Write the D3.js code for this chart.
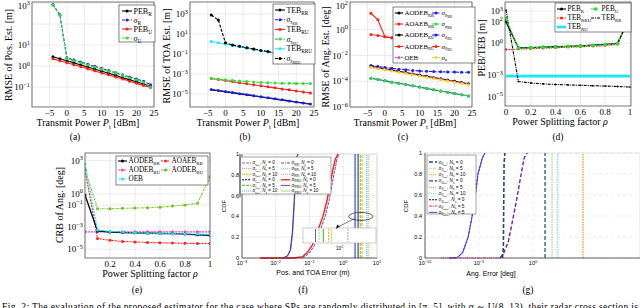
<!DOCTYPE html>
<html>
<head>
<meta charset="utf-8">
<script src="https://cdn.jsdelivr.net/npm/d3@7/dist/d3.min.js"></script>
<style>
  body { margin: 0; background: #fff; }
  svg { display: block; }
  text { font-family: "Liberation Serif", "DejaVu Serif", serif; fill: #000; }
  text.sans { font-family: "Liberation Sans", "DejaVu Sans", sans-serif; }
</style>
</head>
<body>
<svg id="fig" width="640" height="308"></svg>
<script>
// sweeps
var power = [-4, -2, 0, 2, 4, 6, 8, 10, 12, 14, 16, 18, 20, 22, 24];
var rho = [0, 0.1, 0.2, 0.3, 0.4, 0.5, 0.6, 0.7, 0.8, 0.9, 1];

// (a) RMSE of position estimate [m]
var aPebR = [2.8, 2.25, 1.8, 1.42, 1.13, 0.9, 0.72, 0.57, 0.45, 0.36, 0.28, 0.22, 0.18, 0.14, 0.11];
var aSigR = [850, 280, 2.5, 1.95, 1.55, 1.22, 0.97, 0.77, 0.61, 0.48, 0.38, 0.3, 0.24, 0.19, 0.13];
var aPebU = [2.2, 1.8, 1.45, 1.15, 0.92, 0.74, 0.59, 0.47, 0.38, 0.3, 0.24, 0.19, 0.15, 0.12, 0.095];
var aSigU = [800, 260, 2.3, 1.78, 1.42, 1.12, 0.9, 0.71, 0.56, 0.45, 0.36, 0.28, 0.22, 0.17, 0.1];

// (b) RMSE of TOA estimate [m]
var bTebRR = [2.7e-5, 2.15e-5, 1.7e-5, 1.35e-5, 1.05e-5, 8.3e-6, 6.6e-6, 5.1e-6, 4.1e-6, 3.2e-6, 2.55e-6, 2.0e-6, 1.55e-6, 1.23e-6, 0.98e-6];
var bSigRR = [2.8e-5, 2.2e-5, 1.74e-5, 1.38e-5, 1.07e-5, 8.5e-6, 6.8e-6, 5.2e-6, 4.2e-6, 3.3e-6, 2.6e-6, 2.0e-6, 1.6e-6, 1.26e-6, 1.0e-6];
var bTebRU = [3.5e-4, 2.8e-4, 2.2e-4, 1.74e-4, 1.35e-4, 1.07e-4, 8.5e-5, 6.6e-5, 5.2e-5, 4.1e-5, 3.2e-5, 2.6e-5, 2.0e-5, 1.6e-5, 1.26e-5];
var bSigRU = [3.5e-4, 3.0e-4, 2.6e-4, 2.3e-4, 2.0e-4, 1.8e-4, 1.6e-4, 1.45e-4, 1.35e-4, 1.26e-4, 1.2e-4, 1.17e-4, 1.15e-4, 1.12e-4, 1.12e-4];
var bTebRRU = [1.78, 1.32, 0.98, 0.72, 0.52, 0.39, 0.29, 0.21, 0.16, 0.115, 0.085, 0.063, 0.047, 0.035, 0.025];
var bSigRRU = [800, 250, 1.3, 0.8, 0.58, 0.43, 0.32, 0.23, 0.175, 0.127, 0.094, 0.07, 0.052, 0.039, 0.028];

// (c) RMSE of angle estimate [deg]
var cAoaRB = [19, 5.9, 0.28, 0.24, 0.2, 0.16, 0.126, 0.095, 0.072, 0.052, 0.038, 0.025, 0.016, 0.0089, 0.004];
var cAodRU = [0.42, 0.35, 0.28, 0.24, 0.2, 0.16, 0.126, 0.095, 0.072, 0.052, 0.038, 0.025, 0.016, 0.0089, 0.004];
var cAodRR = [1.41e-3, 1.12e-3, 9.1e-4, 7.2e-4, 5.8e-4, 4.7e-4, 3.7e-4, 3.0e-4, 2.4e-4, 1.9e-4, 1.55e-4, 1.23e-4, 9.8e-5, 7.9e-5, 6.3e-5];
var cSigAlpha = [1.2e-3, 9.5e-4, 7.7e-4, 6.1e-4, 4.9e-4, 4.0e-4, 3.15e-4, 2.55e-4, 2.0e-4, 1.6e-4, 1.3e-4, 1.05e-4, 8.3e-5, 6.7e-5, 5.3e-5];
var cSigThRU = [1.7e-3, 1.41e-3, 1.17e-3, 1.0e-3, 8.7e-4, 7.8e-4, 6.9e-4, 6.3e-4, 5.9e-4, 5.6e-4, 5.4e-4, 5.25e-4, 5.1e-4, 5.0e-4, 5.0e-4];
var cSigRR = [1.7e-4, 1.35e-4, 1.07e-4, 8.5e-5, 6.9e-5, 5.5e-5, 4.4e-5, 3.5e-5, 2.75e-5, 2.2e-5, 1.74e-5, 1.4e-5, 1.12e-5, 8.9e-6, 7.1e-6];

// (d) PEB / TEB vs splitting factor [m]
var dPebR = [100, 0.35, 0.38, 0.42, 0.45, 0.5, 0.55, 0.63, 0.76, 0.95, 320];
var dPebU = [200, 0.33, 0.36, 0.4, 0.43, 0.48, 0.53, 0.6, 0.72, 0.9, 400];
var dTebRRU = [0.25, 0.27, 0.3, 0.33, 0.37, 0.4, 0.45, 0.5, 0.58, 0.75, 280];
var dTebRU = [8e-4, 8e-4, 8e-4, 8e-4, 8e-4, 8e-4, 8e-4, 8e-4, 8e-4, 8e-4, 8e-4];
var dTebRR = [1250, 2.5e-4, 1.8e-4, 1.5e-4, 1.3e-4, 1.2e-4, 1.1e-4, 1.0e-4, 9.3e-5, 8.5e-5, 7.5e-5];

// (e) CRB of angles [deg]
var eAodRR = [0.8, 4.5e-4, 3.5e-4, 3.2e-4, 3.0e-4, 2.8e-4, 2.6e-4, 2.5e-4, 2.3e-4, 2.0e-4, 1.8e-4];
var eAoaRB = [150, 9.3e-5, 6.3e-5, 5.0e-5, 4.5e-5, 4.0e-5, 3.8e-5, 3.6e-5, 3.4e-5, 3.3e-5, 3.2e-5];
var eAodBU = [3.7e-4, 3.7e-4, 3.7e-4, 3.7e-4, 3.7e-4, 3.7e-4, 3.7e-4, 3.7e-4, 3.7e-4, 3.7e-4, 3.7e-4];
var eAodRU = [150, 0.045, 0.045, 0.05, 0.052, 0.056, 0.063, 0.079, 0.1, 0.14, 35];
var eOeb = [500, 5.4e-4, 4.0e-4, 3.5e-4, 3.2e-4, 2.8e-4, 2.6e-4, 2.5e-4, 2.4e-4, 2.3e-4, 2.2e-4];

// (f) CDF of position / TOA error [m]
var fSteepX = [0.016, 0.022, 0.027, 0.031, 0.035, 0.039, 0.042, 0.045];
var fSteepX2 = [0.017, 0.023, 0.028, 0.032, 0.036, 0.04, 0.043, 0.046];
var fSteepCdf = [0, 0.02, 0.08, 0.25, 0.55, 0.85, 0.97, 1];
var fRedX = [0.0034, 0.03, 0.06, 0.085, 0.12, 0.17, 0.25, 0.33, 0.4, 0.48, 0.58, 0.7];
var fPurpleX = [0.004, 0.035, 0.07, 0.1, 0.14, 0.2, 0.29, 0.38, 0.46, 0.55, 0.65, 0.76];
var fRedCdf = [0, 0, 0.01, 0.05, 0.12, 0.25, 0.4, 0.55, 0.7, 0.83, 0.95, 1];
var fStepX = [2.24, 2.75, 3.2, 3.6, 5.0, 5.7];
var fInsetX = [2.2, 2.75, 3.6, 5.0, 6.0, 17];
var fXTicks = [-3, -2, -1, 0, 1];

// (g) CDF of angle error [deg]
var gBlueX = [2e-8, 1e-7, 3e-7, 1e-6, 3.5e-6, 8e-6, 2e-5, 3.5e-5];
var gBlueCdf = [0, 0.005, 0.05, 0.2, 0.5, 0.8, 0.95, 1];
var gTealX = [1.5e-3, 1.8e-3, 2.1e-3, 2.5e-3];
var gTealCdf = [0, 0.1, 0.9, 1];
var gPurpleX = [9e-4, 2e-3, 5e-3, 0.01, 0.03, 0.08, 0.15, 0.28];
var gPurpleCdf = [0, 0.05, 0.15, 0.3, 0.55, 0.8, 0.95, 1];
var gMagX = [3e-9, 1e-3];
var gMagCdf = [0, 0];
var gStepX = [13, 58, 200, 4.3e4];
var gXTicks = [-10, -5, 0];

// tick labels
var powTicks = [-10, -5, 0, 5, 10, 15, 20, 25];
var rhoTicks = [0, 0.2, 0.4, 0.6, 0.8, 1];
var aYTicks = [3, 1, 0, -1];
var aYGrid = [3, 2, 1, 0, -1];
var bYTicks = [3, 1, -1, -3, -5];
var cYTicks = [2, 0, -2, -4, -6];
var dYTicks = [3, 2, 0, -3, -5];
var eYTicks = [3, 0, -1, -3, -5];
var cdfTicks = [0, 0.2, 0.4, 0.6, 0.8, 1];

var svg = d3.select("#fig");
var defs = svg.append("defs");
var clipCount = 0;

function minus(v) {
    return v < 0 ? "\u2212" + (-v) : String(v);
}

// "10" with superscript exponent
function sup(sel, e, fs) {
    sel.append("tspan").text("10");
    sel.append("tspan").attr("font-size", fs * 0.7).attr("dy", -fs * 0.4).text(minus(e));
}

// text made of parts [text, level, italic]; level 1 = subscript, 2 = sub-subscript
function rich(sel, parts, fs) {
    var off = 0;
    parts.forEach(function (p) {
        var lvl = p[1] || 0;
        var target = lvl == 0 ? 0 : (lvl == 1 ? fs * 0.25 : fs * 0.4);
        var size = lvl == 0 ? fs : (lvl == 1 ? fs * 0.68 : fs * 0.52);
        var ts = sel.append("tspan").attr("font-size", size).attr("dy", target - off).text(p[0]);
        if (p[2]) ts.attr("font-style", "italic");
        off = target;
    });
}

function makePanel(box, x, y) {
    var g = svg.append("g");
    var id = "clip" + (clipCount++);
    defs.append("clipPath").attr("id", id).append("rect")
        .attr("x", box.l).attr("y", box.t - 2).attr("width", box.r - box.l).attr("height", box.b - box.t + 4);
    var p = { g: g, x: x, y: y, box: box };
    p.back = g.append("g");
    p.plot = g.append("g").attr("clip-path", "url(#" + id + ")");
    p.front = g.append("g");
    return p;
}

function pgfAxes(p, xTicks, xFmt, yExps, yGrid) {
    var b = p.box;
    p.back.selectAll(null).data(xTicks).join("line")
        .attr("x1", function (d) { return p.x(d); }).attr("x2", function (d) { return p.x(d); })
        .attr("y1", b.t).attr("y2", b.b).attr("stroke", "#e3e3e3").attr("stroke-width", 0.7);
    p.back.selectAll(null).data(yGrid || yExps).join("line")
        .attr("x1", b.l).attr("x2", b.r)
        .attr("y1", function (e) { return p.y(Math.pow(10, e)); })
        .attr("y2", function (e) { return p.y(Math.pow(10, e)); })
        .attr("stroke", "#e3e3e3").attr("stroke-width", 0.7);
    p.front.append("rect").attr("x", b.l).attr("y", b.t).attr("width", b.r - b.l).attr("height", b.b - b.t)
        .attr("fill", "none").attr("stroke", "#555").attr("stroke-width", 0.8);
    var fs = 9;
    p.front.selectAll(null).data(xTicks.filter(function (d) { return xFmt(d) !== ""; })).join("text")
        .attr("x", function (d) { return p.x(d); }).attr("y", b.b + 9)
        .attr("text-anchor", "middle").attr("font-size", fs)
        .text(xFmt);
    p.front.selectAll(null).data(yExps).join("text")
        .attr("x", b.l - 2).attr("y", function (e) { return Math.max(p.y(Math.pow(10, e)) + fs * 0.35, 8.5); })
        .attr("text-anchor", "end").attr("font-size", fs)
        .each(function (e) { sup(d3.select(this), e, fs); });
}

function cdfAxes(p, xExps, gridDash) {
    var b = p.box;
    var fs = 5.5;
    p.back.selectAll(null).data(xExps).join("line")
        .attr("x1", function (e) { return p.x(Math.pow(10, e)); }).attr("x2", function (e) { return p.x(Math.pow(10, e)); })
        .attr("y1", b.t).attr("y2", b.b).attr("stroke", "#e0e0e0").attr("stroke-width", 0.6)
        .attr("stroke-dasharray", gridDash);
    p.back.selectAll(null).data(cdfTicks).join("line")
        .attr("x1", b.l).attr("x2", b.r)
        .attr("y1", function (d) { return p.y(d); }).attr("y2", function (d) { return p.y(d); })
        .attr("stroke", "#e0e0e0").attr("stroke-width", 0.6).attr("stroke-dasharray", gridDash);
    p.back.append("rect").attr("x", b.l).attr("y", b.t).attr("width", b.r - b.l).attr("height", b.b - b.t)
        .attr("fill", "none").attr("stroke", "#cfcfcf").attr("stroke-width", 0.6);
    p.front.append("path").attr("d", "M" + b.l + "," + b.t + "V" + b.b + "H" + b.r)
        .attr("fill", "none").attr("stroke", "#333").attr("stroke-width", 0.7);
    p.front.selectAll(null).data(cdfTicks).join("text").attr("class", "sans")
        .attr("x", b.l - 3).attr("y", function (d) { return p.y(d) + 2; })
        .attr("text-anchor", "end").attr("font-size", fs)
        .text(function (d) { return String(d); });
    p.front.selectAll(null).data(xExps).join("text").attr("class", "sans")
        .attr("x", function (e) { return p.x(Math.pow(10, e)); }).attr("y", b.b + 7)
        .attr("text-anchor", "middle").attr("font-size", fs)
        .each(function (e) { sup(d3.select(this), e, fs); });
}

function mark(g, cx, cy, s) {
    if (s.m == "s") {
        g.append("rect").attr("x", cx - 1.6).attr("y", cy - 1.6).attr("width", 3.2).attr("height", 3.2).attr("fill", s.mc || s.c);
    } else {
        g.append("circle").attr("cx", cx).attr("cy", cy).attr("r", s.r || 1.5).attr("fill", s.mc || s.c);
    }
}

function drawSeries(p, xs, ys, s) {
    var pts = xs.map(function (v, i) { return [v, ys[i]]; });
    var line = d3.line()
        .x(function (d) { return p.x(d[0]); })
        .y(function (d) { return p.y(d[1]); });
    p.plot.append("path").datum(pts).attr("d", line)
        .attr("fill", "none").attr("stroke", s.c).attr("stroke-width", s.w || 1.1)
        .attr("stroke-dasharray", s.dash || null);
    if (s.m) {
        pts.forEach(function (d) { mark(p.plot, p.x(d[0]), p.y(d[1]), s); });
    }
}

function vline(p, v, s) {
    p.plot.append("line").attr("x1", p.x(v)).attr("x2", p.x(v)).attr("y1", p.y(0)).attr("y2", p.y(1))
        .attr("stroke", s.c).attr("stroke-width", s.w || 1).attr("stroke-dasharray", s.dash || null);
}

function legend(g, rect, items, fs, cls, len) {
    len = len || 10;
    g.append("rect").attr("x", rect[0]).attr("y", rect[1]).attr("width", rect[2]).attr("height", rect[3])
        .attr("fill", "#fff").attr("stroke", rect[4] || "#333").attr("stroke-width", 0.6);
    items.forEach(function (it) {
        var s = it.s;
        g.append("line").attr("x1", it.x).attr("x2", it.x + len).attr("y1", it.y).attr("y2", it.y)
            .attr("stroke", s.c).attr("stroke-width", s.w || 1.1).attr("stroke-dasharray", s.dash || null);
        if (s.m) mark(g, it.x + len / 2, it.y, s);
        var t = g.append("text").attr("x", it.x + len + 1.5).attr("y", it.y + fs * 0.33).attr("font-size", fs);
        if (cls) t.attr("class", cls);
        rich(t, it.t, fs);
    });
}

function label(x, y, parts, fs, rot, cls) {
    var t = svg.append("text").attr("text-anchor", "middle").attr("font-size", fs);
    if (rot) t.attr("transform", "translate(" + x + "," + y + ") rotate(-90)");
    else t.attr("x", x).attr("y", y);
    if (cls) t.attr("class", cls);
    rich(t, parts, fs);
}

function powFmt(d) { return d == -10 ? "" : minus(d); }
function rhoFmt(d) { return String(d); }

var BLACK = "#000", BLUE = "#1c1cff", RED = "#ff1f1f", GREEN = "#2fe02f", CYAN = "#19e6ff",
    PINK = "#ff3fc8", YELLOW = "#ffd21a", OLIVE = "#6fbf1f";

// ---------- (a) ----------
var pa = makePanel({ l: 32, r: 154, t: 2, b: 107 },
    d3.scaleLinear().domain([-10, 25]).range([32, 154]),
    d3.scaleLog().domain([Math.pow(10, -1.95), Math.pow(10, 3.05)]).range([107, 2]));
pgfAxes(pa, powTicks, powFmt, aYTicks, aYGrid);
drawSeries(pa, power, aPebR, { c: BLACK, m: "o" });
drawSeries(pa, power, aPebU, { c: RED, m: "o" });
drawSeries(pa, power, aSigR, { c: BLUE, m: "o", dash: "3,1.5" });
drawSeries(pa, power, aSigU, { c: GREEN, m: "o", dash: "3,1.5" });
legend(pa.front, [119, 5, 36, 37], [
    { x: 122, y: 11, s: { c: BLACK, m: "o" }, t: [["PEB"], ["R", 1]] },
    { x: 122, y: 20, s: { c: BLUE, m: "o", dash: "3,1.5" }, t: [["σ", 0, true], ["R", 1]] },
    { x: 122, y: 29, s: { c: RED, m: "o" }, t: [["PEB"], ["U", 1]] },
    { x: 122, y: 38, s: { c: GREEN, m: "o", dash: "3,1.5" }, t: [["σ", 0, true], ["U", 1]] }
], 8);
label(12, 55, [["RMSE of Pos. Est. [m]"]], 10, true);
label(88, 126, [["Transmit Power "], ["P", 0, true], ["t", 1], [" [dBm]"]], 10);
label(75, 140, [["(a)"]], 9.5);

// ---------- (b) ----------
var pb = makePanel({ l: 190, r: 314, t: 2, b: 107 },
    d3.scaleLinear().domain([-10, 25]).range([190, 314]),
    d3.scaleLog().domain([Math.pow(10, -6.3), Math.pow(10, 4.2)]).range([107, 2]));
pgfAxes(pb, powTicks, powFmt, bYTicks);
drawSeries(pb, power, bTebRR, { c: BLACK, w: 1.4 });
drawSeries(pb, power, bSigRR, { c: BLUE, m: "o", dash: "3,1.5" });
drawSeries(pb, power, bTebRU, { c: RED, m: "o" });
drawSeries(pb, power, bSigRU, { c: GREEN, m: "o", dash: "3,1.5" });
drawSeries(pb, power, bTebRRU, { c: CYAN, m: "o" });
drawSeries(pb, power, bSigRRU, { c: BLACK, m: "o", dash: "3,1.5" });
legend(pb.front, [273, 4, 42, 60], [
    { x: 275, y: 10, s: { c: BLACK, m: "o" }, t: [["TEB"], ["RR", 1]] },
    { x: 275, y: 19.7, s: { c: BLUE, m: "o", dash: "3,1.5" }, t: [["σ", 0, true], ["τ", 1, true], ["RR", 2]] },
    { x: 275, y: 29.4, s: { c: RED, m: "o" }, t: [["TEB"], ["RU", 1]] },
    { x: 275, y: 39.1, s: { c: GREEN, m: "o", dash: "3,1.5" }, t: [["σ", 0, true], ["τ", 1, true], ["RU", 2]] },
    { x: 275, y: 48.8, s: { c: CYAN, m: "o" }, t: [["TEB"], ["RRU", 1]] },
    { x: 275, y: 58.5, s: { c: BLACK, m: "o", dash: "3,1.5" }, t: [["σ", 0, true], ["τ", 1, true], ["RRU", 2]] }
], 7.8);
label(170, 56, [["RMSE of TOA Est. [m]"]], 10, true);
label(248, 126, [["Transmit Power "], ["P", 0, true], ["t", 1], [" [dBm]"]], 10);
label(245, 140, [["(b)"]], 9.5);

// ---------- (c) ----------
var pc = makePanel({ l: 350, r: 472, t: 2, b: 107 },
    d3.scaleLinear().domain([-10, 25]).range([350, 472]),
    d3.scaleLog().domain([1e-6, Math.pow(10, 2.15)]).range([107, 2]));
pgfAxes(pc, powTicks, powFmt, cYTicks);
drawSeries(pc, power, cAoaRB, { c: RED, m: "o" });
drawSeries(pc, power, cAodRU, { c: RED, m: "o" });
drawSeries(pc, power, cSigThRU, { c: BLUE, m: "o", dash: "3,1.5" });
drawSeries(pc, power, cAodRR, { c: BLACK, m: "o", w: 1.3 });
drawSeries(pc, power, cAodRR, { c: PINK, dash: "2,2" });
drawSeries(pc, power, cSigAlpha, { c: YELLOW, m: "o", dash: "2,1" });
drawSeries(pc, power, cSigRR, { c: BLUE, m: "o" });
drawSeries(pc, power, cSigRR, { c: GREEN, m: "o", dash: "3,1.5" });
legend(pc.front, [393, 7, 82, 56], [
    { x: 395, y: 13, s: { c: BLACK, m: "o" }, t: [["AODEB"], ["RR", 1]] },
    { x: 395, y: 24, s: { c: RED, m: "o" }, t: [["AOAEB"], ["RB", 1]] },
    { x: 395, y: 35, s: { c: BLACK, m: "o" }, t: [["AODEB"], ["RU", 1]] },
    { x: 395, y: 46.5, s: { c: RED, m: "o" }, t: [["AODEB"], ["RU", 1, true]] },
    { x: 395, y: 57.5, s: { c: PINK, m: "o", dash: "2,1" }, t: [["OEB"]] },
    { x: 432, y: 13, s: { c: BLUE, m: "o", dash: "3,1.5" }, t: [["σ", 0, true], ["θ", 1, true], ["RR", 2]] },
    { x: 432, y: 24, s: { c: GREEN, m: "o", dash: "3,1.5" }, t: [["σ", 0, true], ["ϕ", 1, true], ["RR", 2]] },
    { x: 432, y: 35, s: { c: BLUE, m: "o", dash: "3,1.5" }, t: [["σ", 0, true], ["θ", 1, true], ["RU", 2]] },
    { x: 432, y: 46.5, s: { c: RED, m: "o", dash: "3,1.5" }, t: [["σ", 0, true], ["θ", 1, true], ["RU", 2]] },
    { x: 432, y: 57.5, s: { c: YELLOW, m: "o", dash: "2,1" }, t: [["σ", 0, true], ["α", 1, true]] }
], 6.8, null, 8);
label(329, 57, [["RMSE of Ang. Est. [deg]"]], 10, true);
label(405, 126, [["Transmit Power "], ["P", 0, true], ["t", 1], [" [dBm]"]], 10);
label(403, 140, [["(c)"]], 9.5);

// ---------- (d) ----------
var pd = makePanel({ l: 505, r: 631, t: 2, b: 106 },
    d3.scaleLinear().domain([0, 1]).range([506, 630]),
    d3.scaleLog().domain([Math.pow(10, -5.9), Math.pow(10, 3.85)]).range([106, 2]));
pgfAxes(pd, rhoTicks, rhoFmt, dYTicks);
drawSeries(pd, rho, dTebRU, { c: CYAN, w: 2.6 });
drawSeries(pd, rho, dTebRR, { c: BLACK, dash: "3,1,1,1", m: "o", r: 0.9 });
drawSeries(pd, rho, dTebRRU, { c: RED, dash: "1.5,1", m: "o", r: 1.2 });
drawSeries(pd, rho, dPebR, { c: BLACK, m: "o", w: 1.3 });
drawSeries(pd, rho, dPebU, { c: GREEN, m: "s", dash: "3,1.5", w: 1.2 });
legend(pd.front, [555, 3, 76, 29], [
    { x: 557, y: 9, s: { c: BLACK, m: "o" }, t: [["PEB"], ["R", 1]] },
    { x: 557, y: 18, s: { c: RED, m: "o", dash: "1.5,1" }, t: [["TEB"], ["RRU", 1]] },
    { x: 557, y: 27, s: { c: CYAN, w: 2.6 }, t: [["TEB"], ["RU", 1]] },
    { x: 591, y: 9, s: { c: GREEN, m: "s", dash: "3,1.5" }, t: [["PEB"], ["U", 1]] },
    { x: 591, y: 18, s: { c: BLACK, dash: "3,1,1,1" }, t: [["TEB"], ["RR", 1]] }
], 7.2, null, 9);
label(485, 48, [["PEB/TEB [m]"]], 10, true);
label(560, 124.5, [["Power Splitting factor "], ["ρ", 0, true]], 10);
label(558, 140, [["(d)"]], 9.5);

// ---------- (e) ----------
var pe = makePanel({ l: 85, r: 210, t: 153, b: 258 },
    d3.scaleLinear().domain([0, 1]).range([85, 210]),
    d3.scaleLog().domain([Math.pow(10, -5.8), Math.pow(10, 3.7)]).range([258, 153]));
pgfAxes(pe, rhoTicks, function (d) { return d == 0 ? "" : String(d); }, eYTicks);
drawSeries(pe, rho, eAodBU, { c: PINK, m: "o", dash: "2,1" });
drawSeries(pe, rho, eAoaRB, { c: RED, m: "o", dash: "2,1" });
drawSeries(pe, rho, eAodRU, { c: OLIVE, m: "o", dash: "2,1,1,1" });
drawSeries(pe, rho, eAodRR, { c: BLACK, m: "o", w: 1.3 });
drawSeries(pe, rho, eOeb, { c: CYAN, m: "o", dash: "2,1" });
legend(pe.front, [116, 156, 92, 29], [
    { x: 118, y: 161, s: { c: BLACK, m: "o" }, t: [["AODEB"], ["RR", 1]] },
    { x: 118, y: 170, s: { c: PINK, m: "o", dash: "2,1" }, t: [["AODEB"], ["BU", 1]] },
    { x: 118, y: 179, s: { c: CYAN, m: "o", dash: "2,1" }, t: [["OEB"]] },
    { x: 161, y: 161, s: { c: RED, m: "o", dash: "2,1" }, t: [["AOAEB"], ["RB", 1]] },
    { x: 161, y: 170, s: { c: OLIVE, m: "o", dash: "2,1,1,1" }, t: [["AODEB"], ["RU", 1]] }
], 7.2, null, 9);
label(63, 205, [["CRB of Ang. [deg]"]], 10, true);
label(150, 276.5, [["Power Splitting factor "], ["ρ", 0, true]], 10);
label(137, 293, [["(e)"]], 9.5);

// ---------- (f) ----------
var pf = makePanel({ l: 242, r: 377, t: 154, b: 258 },
    d3.scaleLog().domain([1e-3, 10]).range([242, 377]),
    d3.scaleLinear().domain([0, 1]).range([258, 154]));
cdfAxes(pf, fXTicks, null);
drawSeries(pf, fPurpleX, fRedCdf, { c: "#7b3fa8", dash: "3,1", w: 1 });
drawSeries(pf, fRedX, fRedCdf, { c: "#ff1a1a", w: 1.4 });
drawSeries(pf, fSteepX2, fSteepCdf, { c: "#8a6fc0", w: 1 });
drawSeries(pf, fSteepX, fSteepCdf, { c: "#3b3b9e", w: 1 });
var fStepStyles = [
    { c: "#2d4fd6", w: 1.2 }, { c: "#1a237e", w: 1 }, { c: "#8ccf3f", dash: "3,1", w: 1.2 },
    { c: "#ffb52e", dash: "3,1", w: 1.2 }, { c: "#39c6f0", dash: "1,1", w: 1.2 }, { c: "#ffa64d", dash: "1,1", w: 1 }
];
fStepX.forEach(function (v, i) { vline(pf, v, fStepStyles[i]); });
// zoomed inset of the step region
var inset = d3.scaleLog().domain([1, 100]).range([303, 376]);
pf.front.append("rect").attr("x", 303).attr("y", 228).attr("width", 73).attr("height", 15)
    .attr("fill", "#fff").attr("stroke", "#aaa").attr("stroke-width", 0.6);
var insetCols = ["#6a5acd", "#99dd66", "#33aa33", "#ffaa33", "#ffd24d", "#b8977e"];
fInsetX.forEach(function (v, i) {
    pf.front.append("line").attr("x1", inset(v)).attr("x2", inset(v)).attr("y1", 229).attr("y2", 242)
        .attr("stroke", insetCols[i]).attr("stroke-width", 1).attr("stroke-dasharray", i % 2 ? "2,1" : null);
});
pf.front.append("text").attr("class", "sans").attr("x", inset(10)).attr("y", 250)
    .attr("text-anchor", "middle").attr("font-size", 4.5).each(function () { sup(d3.select(this), 1, 4.5); });
pf.front.append("ellipse").attr("cx", pf.x(3.3)).attr("cy", pf.y(0.4)).attr("rx", 12).attr("ry", 4)
    .attr("fill", "none").attr("stroke", "#222").attr("stroke-width", 0.7);
pf.front.append("line").attr("x1", pf.x(2.2)).attr("y1", pf.y(0.38)).attr("x2", 338).attr("y2", 227)
    .attr("stroke", "#222").attr("stroke-width", 0.6);
pf.front.append("path").attr("d", "M336,229 L337,224.5 L340,226.5 Z").attr("fill", "#222");
var fLeg = [
    { c: "#9a5cc7", dash: "3,1" }, { c: "#f4a58a", dash: "1,1" }, { c: "#f0b400", dash: "3,1" },
    { c: "#111", dash: "2,1" }, { c: "#66cc33", dash: "3,1" }, { c: "#4fc3f7", dash: "1,1" },
    { c: "#5e4fa2", dash: "3,1,1,1" }, { c: "#7fe3ff", dash: "1,1" }, { c: "#c8a27c", dash: "1,1" },
    { c: "#ff1a1a", w: 1.3 }, { c: "#5050c8", w: 1 }, { c: "#9be07f", w: 1 }
];
var fNs = ["0", "5", "10"];
var fSubs = ["RR", "RU", "RR", "RRU"];
var fItems = [];
fLeg.forEach(function (s, i) {
    var col = i < 6 ? 0 : 1;
    var row = i % 6;
    var sub = fSubs[Math.floor(i / 3)];
    var head = i < 6 ? [["σ", 0, true], ["τ", 1, true], [sub, 2]] : [["σ", 0, true], [sub, 1]];
    fItems.push({ x: col ? 281 : 242, y: 163 + row * 5.6, s: s,
        t: head.concat([[", "], ["N", 0, true], ["s", 1], [" = " + fNs[i % 3]]]) });
});
legend(pf.front, [240, 157, 91, 37, "#666"], fItems, 4.5, "sans", 9);
pf.front.append("line").attr("x1", 240).attr("x2", 240).attr("y1", 154).attr("y2", 197)
    .attr("stroke", "#555").attr("stroke-width", 1.2);
label(226, 206, [["CDF"]], 6, true, "sans");
label(313, 275, [["Pos. and TOA Error (m)"]], 7, false, "sans");
label(303, 293, [["(f)"]], 9.5);

// ---------- (g) ----------
var pg = makePanel({ l: 425, r: 640, t: 153, b: 258 },
    d3.scaleLog().domain([1e-10, 1e10]).range([425, 641]),
    d3.scaleLinear().domain([0, 1]).range([258, 153]));
cdfAxes(pg, gXTicks, "3,3");
drawSeries(pg, gMagX, gMagCdf, { c: "#ff3fd2", dash: "3,1,1,1", w: 1.1 });
drawSeries(pg, gBlueX, gBlueCdf, { c: "#111", dash: "2,1.5", w: 1 });
drawSeries(pg, gBlueX, gBlueCdf, { c: "#4a4aff", w: 1.1 });
drawSeries(pg, gPurpleX, gPurpleCdf, { c: "#7a1fa2", dash: "4,2", w: 1.4 });
drawSeries(pg, gTealX, gTealCdf, { c: "#1f4f66", dash: "4,2", w: 1.6 });
var gStepStyles = [
    { c: "#2a6b8a", dash: "4,2", w: 1.4 }, { c: "#a8d46f", dash: "1.5,1", w: 1.2 },
    { c: "#6fd9f0", dash: "1.5,1", w: 1.2 }, { c: "#ff9a33", dash: "1.5,1", w: 1.3 }
];
gStepX.forEach(function (v, i) { vline(pg, v, gStepStyles[i]); });
var gLeg = [
    { c: "#1f4f66", dash: "4,2", w: 1.4 }, { c: "#f4a58a", dash: "1,1" }, { c: "#ffb52e", dash: "1,1" },
    { c: "#7a1fa2", dash: "4,2", w: 1.3 }, { c: "#7cc242", dash: "1,1" }, { c: "#7fe3ff", dash: "1,1" },
    { c: "#111", dash: "2,1" }, { c: "#ff3fd2", dash: "3,1,1,1" }, { c: "#4a4aff" }
];
var gSub = ["RR", "RR", "RR", "RU", "RU", "RU", "RRU", "RRU", "RRU"];
var gNs = ["0", "5", "10", "0", "5", "10", "0", "5", "5"];
var gItems = gLeg.map(function (s, i) {
    return { x: 429, y: 162 + i * 6.3, s: s,
        t: [["σ", 0, true], ["θ", 1, true], [gSub[i], 2], [", "], ["N", 0, true], ["s", 1], [" = " + gNs[i]]] };
});
legend(pg.front, [427, 155, 49, 59, "#666"], gItems, 4.8, "sans", 8);
label(408, 206, [["CDF"]], 6, true, "sans");
label(491, 276, [["Ang. Error [deg]"]], 7, false, "sans");
label(528, 293, [["(g)"]], 9.5);

// caption, cut at the bottom edge
svg.append("text").attr("x", 2).attr("y", 309.5).attr("font-size", 9.5)
    .attr("textLength", 636).attr("lengthAdjust", "spacing")
    .text("Fig. 2: The evaluation of the proposed estimator for the case where SPs are randomly distributed in [\u03c0, 5], with \u03b1 \u223c U(8, 13), their radar cross section is");
</script>
</body>
</html>
